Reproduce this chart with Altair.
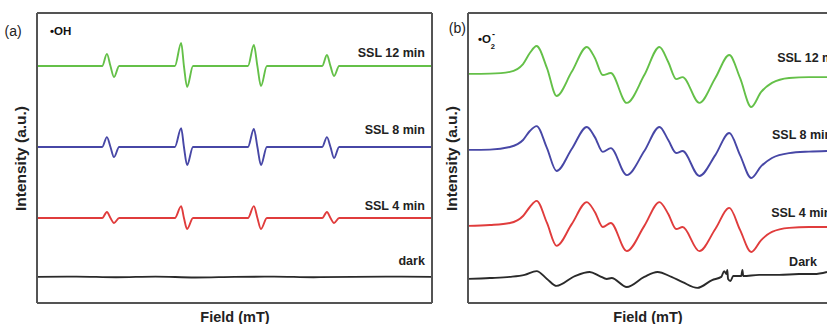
import altair as alt
import pandas as pd

FONT = "Liberation Sans"
KEYS = ["12", "8", "4", "dark"]
COLORS = ["#64c048", "#4747a6", "#e03c3c", "#2a2a2a"]

# ---------- panel (a): DMPO-•OH ----------
OH_FIELD = [344.00, 345.65, 345.77, 345.86, 345.95, 346.08,
            347.49, 347.65, 347.72, 347.80, 347.95,
            349.34, 349.49, 349.58, 349.67, 349.82,
            351.22, 351.34, 351.43, 351.52, 351.65, 354.00]
OH_12 = [81.7, 81.7, 85.9, 81.7, 77.9, 81.7,
         81.7, 89.7, 81.7, 74.5, 81.7,
         81.7, 89.0, 81.7, 74.8, 81.7,
         81.7, 85.5, 81.7, 78.3, 81.7, 81.7]
OH_8 = [53.8, 53.8, 57.2, 53.8, 50.3, 53.8,
        53.8, 60.3, 53.8, 47.6, 53.8,
        53.8, 60.0, 53.8, 47.6, 53.8,
        53.8, 57.2, 53.8, 50.0, 53.8, 53.8]
OH_4 = [29.3, 29.3, 31.4, 29.3, 27.6, 29.3,
        29.3, 33.4, 29.3, 25.5, 29.3,
        29.3, 33.4, 29.3, 25.5, 29.3,
        29.3, 31.4, 29.3, 27.6, 29.3, 29.3]
OH_DARK_FIELD = [344, 345, 346, 347, 348, 349, 350, 351, 352, 353, 354]
OH_DARK = [9.0, 9.1, 8.9, 9.1, 8.8, 9.0, 9.1, 8.9, 9.0, 9.1, 9.0]

A_LABELS = ["SSL 12 min", "SSL 8 min", "SSL 4 min", "dark"]
A_LABEL_X = [353.82, 353.82, 353.82, 353.82]
A_LABEL_Y = [86.2, 59.7, 33.4, 14.5]

# ---------- panel (b): DMPO-•O2- ----------
O2_FIELD = [344.00, 344.55, 345.05, 345.38, 345.55, 345.72, 345.98, 346.22,
            346.60, 346.98, 347.18, 347.38, 347.58, 347.98, 348.42, 348.80,
            349.02, 349.22, 349.38, 349.80, 350.20, 350.55, 350.82, 351.10,
            351.35, 351.62, 352.05, 352.55, 353.00]
O2_12 = [79.0, 79.1, 79.7, 82.4, 86.2, 88.6, 81.0, 71.4,
         79.7, 88.3, 84.5, 78.6, 79.3, 69.0, 78.6, 88.3,
         83.1, 77.2, 77.9, 69.0, 77.6, 85.5, 77.6, 67.6,
         72.8, 75.9, 77.6, 77.9, 77.9]
O2_8 = [52.8, 52.9, 53.8, 56.2, 59.3, 61.0, 53.4, 45.5,
        53.1, 60.7, 57.2, 52.1, 53.4, 44.1, 52.4, 60.7,
        56.2, 51.7, 52.4, 43.8, 51.0, 58.6, 51.0, 43.1,
        47.2, 50.0, 51.7, 52.2, 52.4]
O2_4 = [26.6, 26.9, 27.6, 30.0, 33.1, 35.2, 27.6, 19.7,
        27.2, 34.8, 31.4, 26.2, 27.6, 17.9, 26.6, 34.8,
        30.7, 25.5, 26.2, 17.9, 25.5, 32.8, 25.2, 17.6,
        21.7, 24.5, 25.9, 26.2, 26.2]
O2_DARK_FIELD = [344.00, 344.55, 345.05, 345.42, 345.72, 345.98, 346.22, 346.68,
                 347.05, 347.30, 347.48, 347.60, 347.98, 348.42, 348.75, 349.10,
                 349.38, 349.75, 350.12, 350.35, 350.42, 350.48, 350.50, 350.52,
                 350.58, 350.65, 350.85, 350.88, 350.90, 351.30, 351.80, 352.30,
                 352.68, 353.00]
O2_DARK = [8.3, 8.6, 9.0, 9.7, 11.0, 8.3, 5.9, 9.3,
           10.7, 9.3, 8.3, 8.6, 5.5, 9.0, 10.7, 9.0,
           7.2, 5.2, 7.9, 9.0, 11.0, 10.0, 11.4, 8.3,
           7.6, 9.3, 9.3, 11.4, 9.3, 9.7, 9.7, 10.0,
           10.0, 10.7]

B_LABELS = ["SSL 12 min", "SSL 8 min", "SSL 4 min", "Dark"]
B_LABEL_X = [351.75, 351.62, 351.60, 352.05]
B_LABEL_Y = [84.5, 57.9, 31.0, 14.1]


def long_table(pairs):
    rows = []
    for key, fields, vals in pairs:
        for f, v in zip(fields, vals):
            rows.append({"field": f, "intensity": v, "key": key})
    return pd.DataFrame(rows)


df_a = long_table([("12", OH_FIELD, OH_12), ("8", OH_FIELD, OH_8),
                   ("4", OH_FIELD, OH_4), ("dark", OH_DARK_FIELD, OH_DARK)])
df_b = long_table([("12", O2_FIELD, O2_12), ("8", O2_FIELD, O2_8),
                   ("4", O2_FIELD, O2_4), ("dark", O2_DARK_FIELD, O2_DARK)])

lab_a = pd.DataFrame({"text": A_LABELS, "field": A_LABEL_X, "intensity": A_LABEL_Y})
lab_b = pd.DataFrame({"text": B_LABELS, "field": B_LABEL_X, "intensity": B_LABEL_Y})

tag_a = pd.DataFrame({"text": ["(a)"], "field": [343.18], "intensity": [93.4]})
tag_b = pd.DataFrame({"text": ["(b)"], "field": [343.52], "intensity": [94.5]})
rad_a = pd.DataFrame({"text": ["•OH"], "field": [344.33], "intensity": [93.4]})
rad_b = pd.DataFrame({"text": ["•O"], "field": [344.25], "intensity": [90.7]})
rad_b_sub = pd.DataFrame({"text": ["2"], "field": [344.57], "intensity": [88.3]})
rad_b_sup = pd.DataFrame({"text": ["-"], "field": [344.60], "intensity": [92.8]})

FRAME = "#555555"


def panel(df, labels, tag, rads, xdom, width, height, label_align, label_clip, right_edge):
    xs = alt.Scale(domain=xdom, nice=False, zero=False)
    ys = alt.Scale(domain=[0, 100], nice=False, zero=False)
    X = alt.X("field:Q", scale=xs, axis=alt.Axis(title="Field (mT)"))
    Y = alt.Y("intensity:Q", scale=ys, axis=alt.Axis(title="Intensity (a.u.)"))
    lines = alt.Chart(df).mark_line(interpolate="monotone", strokeWidth=1.9, clip=True).encode(
        x=X, y=Y,
        color=alt.Color("key:N", scale=alt.Scale(domain=KEYS, range=COLORS), legend=None),
        order=alt.Order("field:Q"),
    )
    lab = alt.Chart(labels).mark_text(
        align=label_align, baseline="middle", font=FONT, fontSize=12.5,
        fontWeight="bold", color="#222222", clip=label_clip,
    ).encode(x=X, y=Y, text="text:N")
    tg = alt.Chart(tag).mark_text(
        align="left", baseline="middle", font=FONT, fontSize=14, color="#222222"
    ).encode(x=X, y=Y, text="text:N")
    layers = [lines, lab, tg]
    for d, fs in rads:
        layers.append(alt.Chart(d).mark_text(
            align="left", baseline="middle", font=FONT, fontSize=fs,
            fontWeight="bold", color="#111111"
        ).encode(x=X, y=Y, text="text:N"))
    top = alt.Chart(df).mark_rule(color=FRAME, strokeWidth=1.6).encode(
        x=alt.value(0), x2=alt.value(width), y=alt.value(0))
    bot = alt.Chart(df).mark_rule(color=FRAME, strokeWidth=1.6).encode(
        x=alt.value(0), x2=alt.value(width), y=alt.value(height))
    lft = alt.Chart(df).mark_rule(color=FRAME, strokeWidth=1.6).encode(
        x=alt.value(0), y=alt.value(0), y2=alt.value(height))
    layers += [top, bot, lft]
    if right_edge:
        rgt = alt.Chart(df).mark_rule(color=FRAME, strokeWidth=1.6).encode(
            x=alt.value(width), y=alt.value(0), y2=alt.value(height))
        layers.append(rgt)
    return alt.layer(*layers).properties(width=width, height=height)


left = panel(df_a, lab_a, tag_a, [(rad_a, 11.5)], [344, 354], 395, 290, "right", False, True)
right = panel(df_b, lab_b, tag_b, [(rad_b, 11.5), (rad_b_sub, 7.5), (rad_b_sup, 9)],
              [344, 353], 359, 290, "left", True, False)

chart = alt.hconcat(left, right, spacing=36, bounds="flush").configure(
    padding={"left": 4, "top": 12, "right": 0, "bottom": 0},
    background="white",
).configure_view(stroke=None).configure_axis(
    domain=False, ticks=False, labels=False, grid=False,
    titleFont=FONT, titleFontWeight="bold", titleColor="#222222",
).configure_axisX(titleFontSize=14.5, titlePadding=7).configure_axisY(
    titleFontSize=15.5, titlePadding=8.5)

chart.save("out.html", embed_options={"renderer": "svg", "actions": False})
